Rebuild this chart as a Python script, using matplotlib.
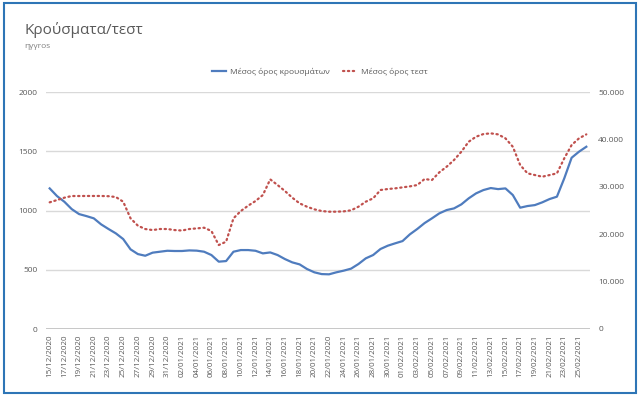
import matplotlib
matplotlib.use("Agg")
import matplotlib.pyplot as plt
import matplotlib.ticker as mticker
from matplotlib.patches import Rectangle
import pandas as pd

plt.rcParams['font.family'] = ['Open Sans', 'DejaVu Sans']

# daily values, 15/12/2020 .. 26/02/2021
dates = pd.date_range("2020-12-15", "2021-02-26", freq="D")

cases_avg = [1188, 1123, 1075, 1013, 971, 954, 935, 884, 845, 808,
             760, 673, 633, 619, 645, 653, 661, 659, 659, 664,
             662, 653, 625, 569, 574, 653, 667, 667, 661, 639,
             647, 625, 591, 563, 546, 507, 479, 464, 462, 479,
             493, 510, 549, 597, 625, 676, 704, 724, 743, 800,
             845, 895, 935, 977, 1005, 1019, 1053, 1104, 1146, 1174,
             1191, 1182, 1188, 1132, 1025, 1039, 1047, 1070, 1098, 1118,
             1273, 1447, 1498, 1540]

tests_avg = [26760, 27240, 27740, 28090, 28090, 28100, 28100, 28100, 28050, 27880,
             26890, 23380, 21820, 21120, 20900, 21120, 21120, 20900, 20800, 21120,
             21250, 21400, 20700, 17740, 18440, 23380, 24920, 26050, 27030, 28300,
             31610, 30410, 29150, 27740, 26540, 25830, 25280, 24920, 24780, 24780,
             24850, 25070, 25830, 26890, 27600, 29360, 29570, 29710, 29920, 30130,
             30410, 31680, 31470, 33090, 34280, 35690, 37450, 39560, 40620, 41180,
             41330, 41110, 40270, 38500, 34640, 32880, 32520, 32170, 32520, 32880,
             36050, 38860, 40270, 41110]

# the source chart has one label with a wrong year, keep it as shown
tick_labels = [d.strftime("%d/%m/%Y") for d in dates[::2]]
tick_labels[19] = "22/01/2020"

blue = "#4F7CBE"
red = "#C0504D"
txt = "#595959"
grid = "#D9D9D9"

fig = plt.figure(figsize=(6.39, 3.96), dpi=100)
ax = fig.add_axes([46 / 639, 1 - 329 / 396, 544 / 639, (329 - 92.3) / 396])
ax2 = ax.twinx()

x = list(range(len(dates)))
ax.plot(x, cases_avg, color=blue, lw=1.6, label="Μέσος όρος κρουσμάτων", zorder=3)
ax2.plot(x, tests_avg, color=red, lw=1.6, ls=(0, (0.6, 1.6)), dash_capstyle="round",
         label="Μέσος όρος τεστ", zorder=3)

ax.set_xlim(-0.5, len(dates) - 0.5)
ax.set_ylim(0, 2000)
ax2.set_ylim(0, 50000)
ax.set_yticks([0, 500, 1000, 1500, 2000])
ax2.set_yticks([0, 10000, 20000, 30000, 40000, 50000])
ax2.yaxis.set_major_formatter(mticker.FuncFormatter(
    lambda v, p: "0" if v == 0 else f"{int(v):,}".replace(",", ".")))

ax.set_xticks(x[::2])
ax.set_xticklabels(tick_labels, rotation=90, fontsize=5.8, color=txt)

for a in (ax, ax2):
    for s in a.spines.values():
        s.set_visible(False)
    a.tick_params(axis="y", length=0, labelsize=6, labelcolor=txt, pad=6)
ax.tick_params(axis="x", length=0, pad=4)
ax.yaxis.grid(True, color=grid, lw=1)
ax.set_axisbelow(True)
ax.axhline(0, color="#BFBFBF", lw=1.2, zorder=2)

fig.text(24 / 639, 1 - 30 / 396, "Κρούσματα/τεστ", fontsize=11, color=txt, va="center")
fig.text(24 / 639, 1 - 47 / 396, "ηγγros", fontsize=6, color="#7F7F7F", va="center")

h1, l1 = ax.get_legend_handles_labels()
h2, l2 = ax2.get_legend_handles_labels()
fig.legend(h1 + h2, l1 + l2, loc="center", bbox_to_anchor=(320 / 639, 1 - 72 / 396),
           ncol=2, frameon=False, fontsize=6, labelcolor=txt, handlelength=1.6,
           columnspacing=1.5, handletextpad=0.6)

# blue frame of the screenshot
fig.patches.append(Rectangle((4 / 639, 1 - 393 / 396), 632 / 639, 390 / 396,
                             transform=fig.transFigure, fill=False,
                             edgecolor="#2E75B6", lw=1.5))

fig.savefig("out.png", dpi=100)
